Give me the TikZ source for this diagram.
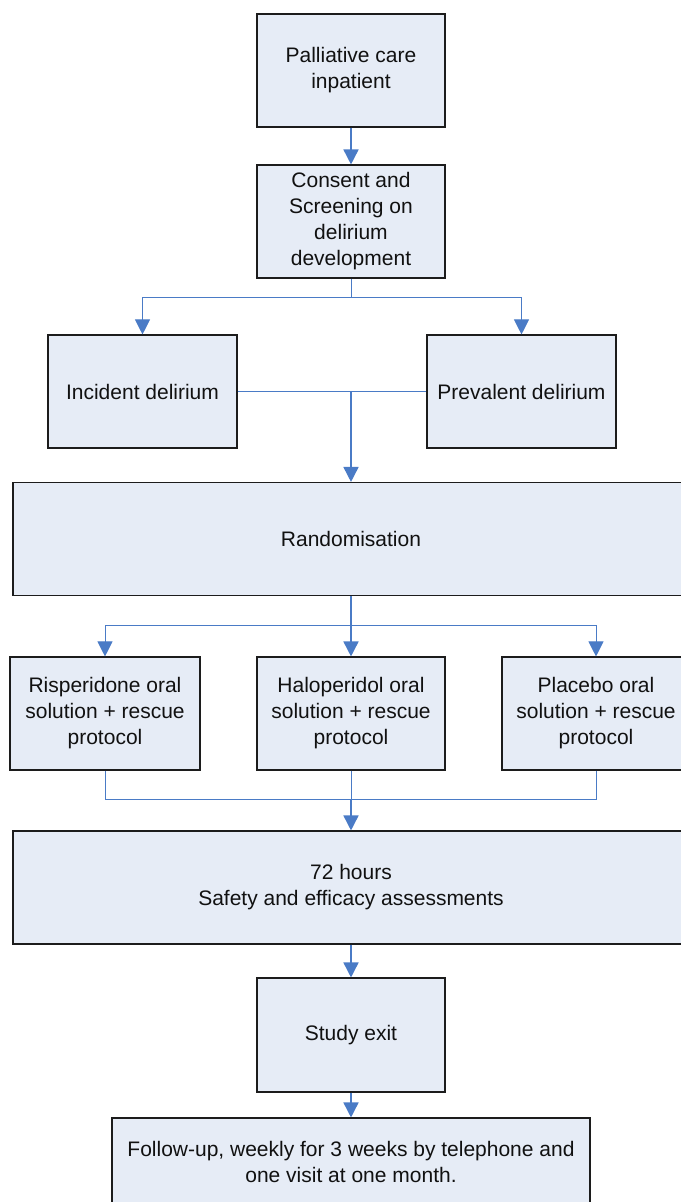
\documentclass[tikz,border=0pt]{standalone}
\usepackage{fontspec}
\setmainfont{Liberation Sans}
\usetikzlibrary{arrows.meta}
\definecolor{boxfill}{HTML}{E6ECF6}
\definecolor{boxline}{HTML}{1C1C1C}
\definecolor{flowblue}{HTML}{4A7BC6}
\definecolor{inktext}{HTML}{111111}

\begin{document}
\begin{tikzpicture}[x=1pt,y=-1pt,
  stage/.style={draw=boxline, line width=1.1pt, fill=boxfill, align=center,
    text=inktext, font=\fontsize{21}{26}\selectfont, inner sep=0pt,
    minimum width=188pt, minimum height=113pt},
  wide/.style={stage, minimum width=676pt},
  branch/.style={draw=flowblue, line width=1pt},
  flow/.style={draw=flowblue, line width=1.6pt,
    -{Triangle[length=15pt,width=15pt]}},
  flowthin/.style={branch, -{Triangle[length=15pt,width=15pt]}}
]
\useasboundingbox (0,0) rectangle (680,1202);

% --- boxes -------------------------------------------------------------
\node[stage] (pall)    at (351,70.5)   {Palliative care\\inpatient};
\node[stage] (consent) at (351,221.5)  {Consent and\\Screening on\\delirium\\development};
\node[stage, minimum width=189pt] (incid) at (142.5,391.5) {Incident delirium};
\node[stage, minimum width=189pt] (prev)  at (521.5,391.5) {Prevalent delirium};
\node[wide]  (rand)    at (351,539)    {Randomisation};
\node[stage, minimum width=190pt] (risp) at (105,713.5) {Risperidone oral\\solution + rescue\\protocol};
\node[stage] (halo)    at (351,713.5)  {Haloperidol oral\\solution + rescue\\protocol};
\node[stage] (plac)    at (596,713.5)  {Placebo oral\\solution + rescue\\protocol};
\node[wide]  (assess)  at (351,887.5)  {72 hours\\Safety and efficacy assessments};
\node[stage, minimum height=114pt] (exitn) at (351,1035) {Study exit};
\node[stage, minimum width=478pt, minimum height=88pt] (follow) at (351,1162)
  {Follow-up, weekly for 3 weeks by telephone and\\one visit at one month.};

% --- junction points ---------------------------------------------------
\coordinate (split1) at (351,297);
\coordinate (merge1) at (351,391.5);
\coordinate (split2) at (351,625);
\coordinate (merge2) at (351,799);

% --- connectors --------------------------------------------------------
\draw[flow] (pall) -- (consent);

\draw[branch] (consent.south) -- (split1);
\draw[flowthin] (split1) -| (incid.north);
\draw[flowthin] (split1) -| (prev.north);

\draw[branch] (incid.east) -- (prev.west);
\draw[flow] (merge1) -- (rand.north -| merge1);

\draw[flow] (rand.south -| split2) -- (halo.north);
\draw[flowthin] (split2) -| (risp.north);
\draw[flowthin] (split2) -| (plac.north);

\draw[branch] (risp.south) |- (merge2);
\draw[branch] (plac.south) |- (merge2);
\draw[branch] (halo.south) -- (merge2);
\draw[flow] (merge2) -- (assess.north -| merge2);

\draw[flow] (assess.south -| exitn.north) -- (exitn.north);
\draw[flow] (exitn) -- (follow);
\end{tikzpicture}
\end{document}
